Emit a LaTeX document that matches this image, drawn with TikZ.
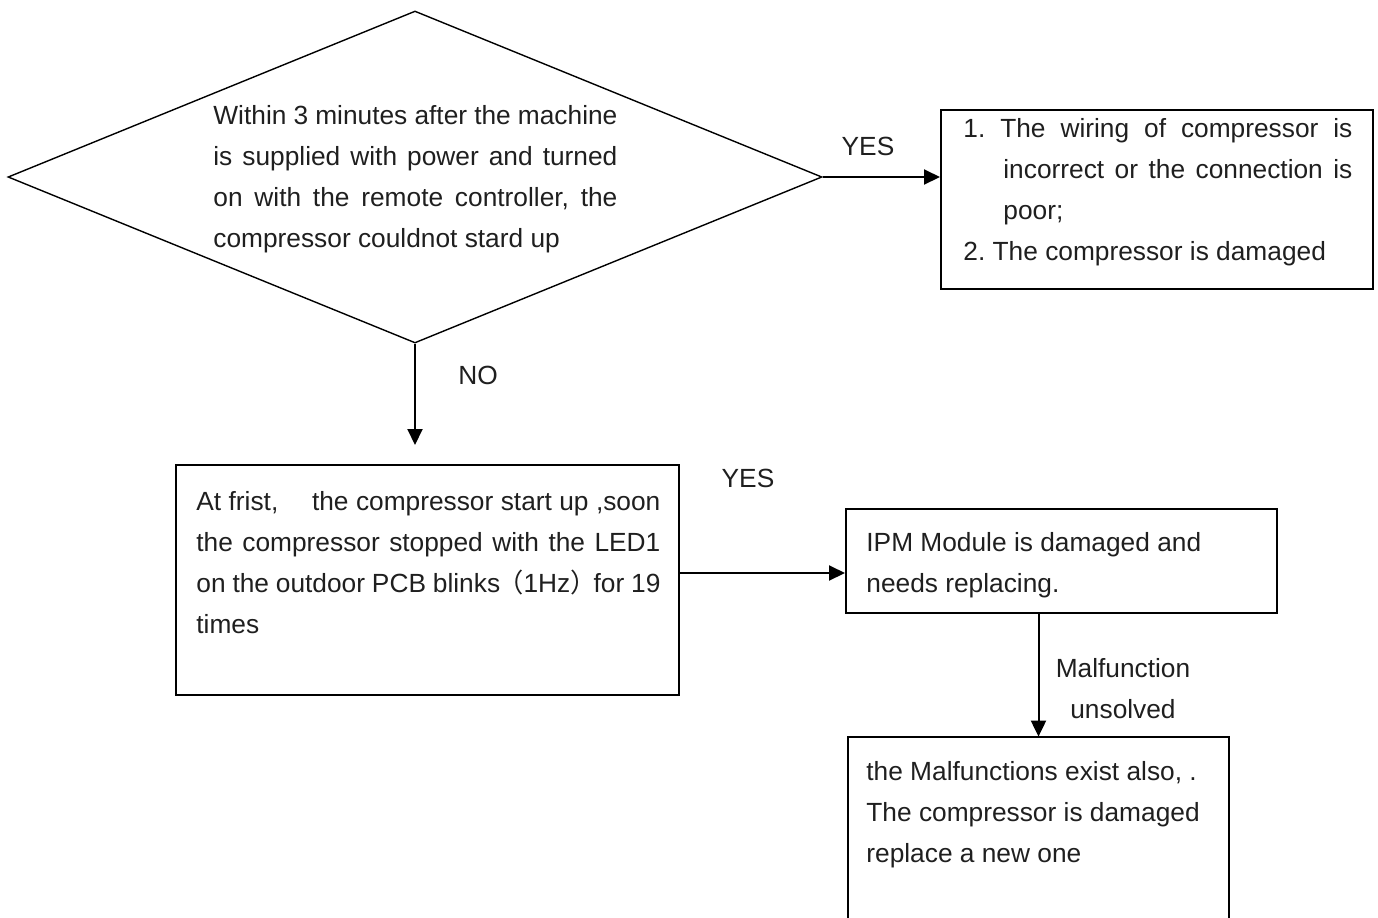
\documentclass[tikz,border=0pt]{standalone}
\usepackage{fontspec}
\setmainfont{Liberation Sans}
\newfontfamily\cjk{Noto Sans CJK SC}
\usepackage{xcolor}
\usetikzlibrary{arrows.meta,shapes.geometric,positioning,calc}
\colorlet{txtA}{black!88}
\frenchspacing

\begin{document}
\begin{tikzpicture}[x=0.5pt,y=-0.5pt,
    box/.style={draw, line width=1pt, inner sep=0pt},
    txt/.style={text=txtA, inner sep=0pt, anchor=north west, font=\fontsize{13.15pt}{20.5pt}\selectfont},
    lbl/.style={text=txtA, inner sep=0pt, font=\fontsize{13.15pt}{20.5pt}\selectfont},
    arr/.style={line width=1pt, -{Triangle[length=8pt,width=7.5pt]}}]
  \useasboundingbox (0,0) rectangle (1378,917);

  % decision: does the compressor start within 3 minutes
  \node[draw, diamond, line width=0.7pt, inner sep=0pt, minimum width=407pt, minimum height=166pt] (d) at (415,177) {};
  \node[txt, text width=202pt, align=justify] (dtxt) at (213,105)
    {Within 3 minutes after the machine\linebreak is supplied with power and turned\linebreak on with the remote controller, the\linebreak compressor couldnot stard up};

  % YES branch: wiring / compressor
  \node[box, minimum width=216pt, minimum height=89.5pt] (b1) at (1157,199.5) {};
  \node[txt, text width=194.5pt, align=justify] (b1txt) at (963,118)
    {{\hangindent=20pt\hangafter=1 1. The wiring of compressor is\linebreak incorrect or the connection is\linebreak poor;\par}2. The compressor is damaged};

  % NO branch: LED1 blinks 19 times
  \node[box, minimum width=251.5pt, minimum height=115pt] (b2) at (427.5,580) {};
  \node[txt, text width=232pt, align=justify] (b2txt) at (196,491)
    {At frist,\hspace{1em} the compressor start up ,soon\linebreak the compressor stopped with the LED1\linebreak on~the~outdoor~PCB~blinks\kern-1.5pt{\cjk （}1Hz{\cjk ）}\kern-1.5pt for~19\linebreak times};

  % IPM module
  \node[box, minimum width=215.5pt, minimum height=52pt] (b3) at (1061.5,561) {};
  \node[txt, align=left] (b3txt) at (866,532) {IPM Module is damaged and\\needs replacing.};

  % still not solved (box runs off the page)
  \node[inner sep=0pt, minimum width=190.5pt, minimum height=91.5pt] (b4) at (1038.5,828.5) {};
  \draw[line width=1pt] (b4.south west) -- (b4.north west) -- (b4.north east) -- (b4.south east);
  \node[txt, align=left] (b4txt) at (866,761) {the Malfunctions exist also, .\\The compressor is damaged\\replace a new one};

  % connectors
  \coordinate (dtip) at (415,445);
  \draw[arr] (d.east) -- (d.east -| b1.west);
  \draw[arr] (d.south) -- (dtip);
  \draw[arr] ([yshift=3.5pt]b2.east) -- ([yshift=3.5pt]b2.east -| b3.west);
  \draw[arr] (b3.south -| b4.north) -- (b4.north);

  % branch labels
  \node[lbl] (yes1) at (868,146) {YES};
  \node[lbl] (no1) at (478,375) {NO};
  \node[lbl] (yes2) at (748,478) {YES};
  \node[lbl, align=center] (mu) at (1123,689) {Malfunction\\unsolved};
\end{tikzpicture}
\end{document}
